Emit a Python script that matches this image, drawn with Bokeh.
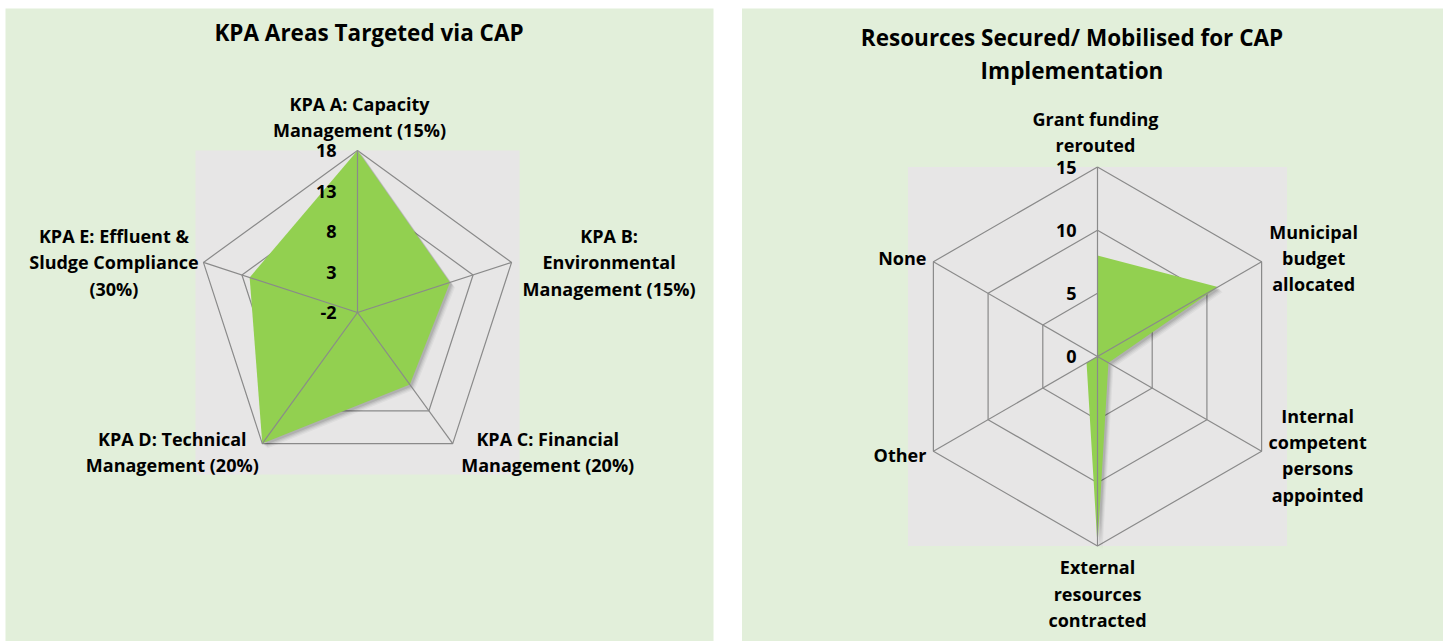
import numpy as np
from bokeh.plotting import figure
from bokeh.models import Range1d
from bokeh.embed import file_html
from bokeh.resources import INLINE
from bokeh.core.properties import value

# ---------------- data ----------------
kpa_title = ["KPA Areas Targeted via CAP"]
kpa_categories = [
    "KPA A: Capacity\nManagement (15%)",
    "KPA B:\nEnvironmental\nManagement (15%)",
    "KPA C: Financial\nManagement (20%)",
    "KPA D: Technical\nManagement (20%)",
    "KPA E: Effluent &\nSludge Compliance\n(30%)",
]
kpa_values = [18, 10, 9, 18, 12]
kpa_ticks = [-2, 3, 8, 13, 18]

res_title = ["Resources Secured/ Mobilised for CAP", "Implementation"]
res_categories = [
    "Grant funding\nrerouted",
    "Municipal\nbudget\nallocated",
    "Internal\ncompetent\npersons\nappointed",
    "External\nresources\ncontracted",
    "Other",
    "None",
]
res_values = [8, 11, 1, 15, 1, 0]
res_ticks = [0, 5, 10, 15]

# ---------------- style ----------------
FONT = value("Open Sans")
PANEL = "#E2EFDA"
PLOTBG = "#E7E6E6"
GRID = "#8A8A8A"
FILL = "#92D050"
LABEL_FS = "18px"
TITLE_FS = "22.5px"
W, H = 1443, 641
X0, Y0 = 0, 0

p = figure(width=W, height=H, output_backend="svg", toolbar_location=None,
           x_range=Range1d(X0, X0 + W), y_range=Range1d(Y0 + H, Y0),
           min_border=0, background_fill_color="white", border_fill_color="white")
p.axis.visible = False
p.grid.visible = False
p.outline_line_color = None

# panels
p.quad(left=[5, 741.5], right=[713, 1443], top=[8, 8], bottom=[641, 641],
       fill_color=PANEL, line_color=None)


def radar(cx, cy, R, vmin, vmax, values, ticks, labels, place):
    n = len(values)
    ang = np.deg2rad(90 - 360.0 / n * np.arange(n))
    cs, sn = np.cos(ang), np.sin(ang)

    def rad(v):
        return (np.asarray(v, dtype=float) - vmin) / (vmax - vmin) * R

    # plot area
    p.quad(left=[cx - R], right=[cx + R], top=[cy - R], bottom=[cy + R],
           fill_color=PLOTBG, line_color=None)
    # rings
    for t in ticks[1:]:
        r = rad(t)
        xs = list(cx + r * cs) + [cx + r * cs[0]]
        ys = list(cy - r * sn) + [cy - r * sn[0]]
        p.line(xs, ys, line_color=GRID, line_width=1.2)
    # data
    rv = rad(values)
    px = cx + rv * cs
    py = cy - rv * sn
    for off, a in [(5, 0.04), (4, 0.05), (3, 0.07), (2, 0.09)]:
        p.patch(px + off, py + off, fill_color="black", fill_alpha=a, line_color=None)
    p.patch(px, py, fill_color=FILL, line_color=None)
    # spokes
    xs = [[cx, cx + R * c] for c in cs]
    ys = [[cy, cy - R * s] for s in sn]
    p.multi_line(xs, ys, line_color=GRID, line_width=1.2)
    # tick labels
    ty = [cy - rad(t) for t in ticks]
    p.text(x=[cx - 21] * len(ticks), y=ty, text=[str(t) for t in ticks],
           text_font=FONT, text_font_style="bold", text_font_size=LABEL_FS,
           text_align="right", text_baseline="middle", text_color="black")
    # category labels
    lh = 26.2
    for i, lab in enumerate(labels):
        dx, dy, al = place[i]
        lines = lab.split("\n")
        bx = cx + R * cs[i] + dx
        by = cy - R * sn[i] + dy
        k = len(lines)
        yy = [by + (j - (k - 1) / 2) * lh for j in range(k)]
        p.text(x=[bx] * k, y=yy, text=lines, text_font=FONT, text_font_style="bold",
               text_font_size=LABEL_FS, text_align=al, text_baseline="middle",
               text_color="black")


kpa_place = [(2, -33.5, "center"), (97.5, 0, "center"), (95, 8.5, "center"),
             (-90, 8.5, "center"), (-89.5, 0, "center")]
radar(357, 312, 162, kpa_ticks[0], kpa_ticks[-1], kpa_values, kpa_ticks,
      kpa_categories, kpa_place)

res_place = [(-2, -35, "center"), (52, -4, "center"), (56, 4, "center"),
             (0, 47.5, "center"), (-7, 4, "right"), (-7, -4, "right")]
radar(1097, 356, 189.5, res_ticks[0], res_ticks[-1], res_values, res_ticks,
      res_categories, res_place)

# titles
p.text(x=[368.5], y=[31.5], text=kpa_title, text_font=FONT, text_font_style="bold",
       text_font_size=TITLE_FS, text_align="center", text_baseline="middle", text_color="black")
p.text(x=[1071.5, 1071.5], y=[37, 69.5], text=res_title, text_font=FONT,
       text_font_style="bold", text_font_size=TITLE_FS, text_align="center",
       text_baseline="middle", text_color="black")

open("out.html", "w").write(file_html(p, INLINE))
